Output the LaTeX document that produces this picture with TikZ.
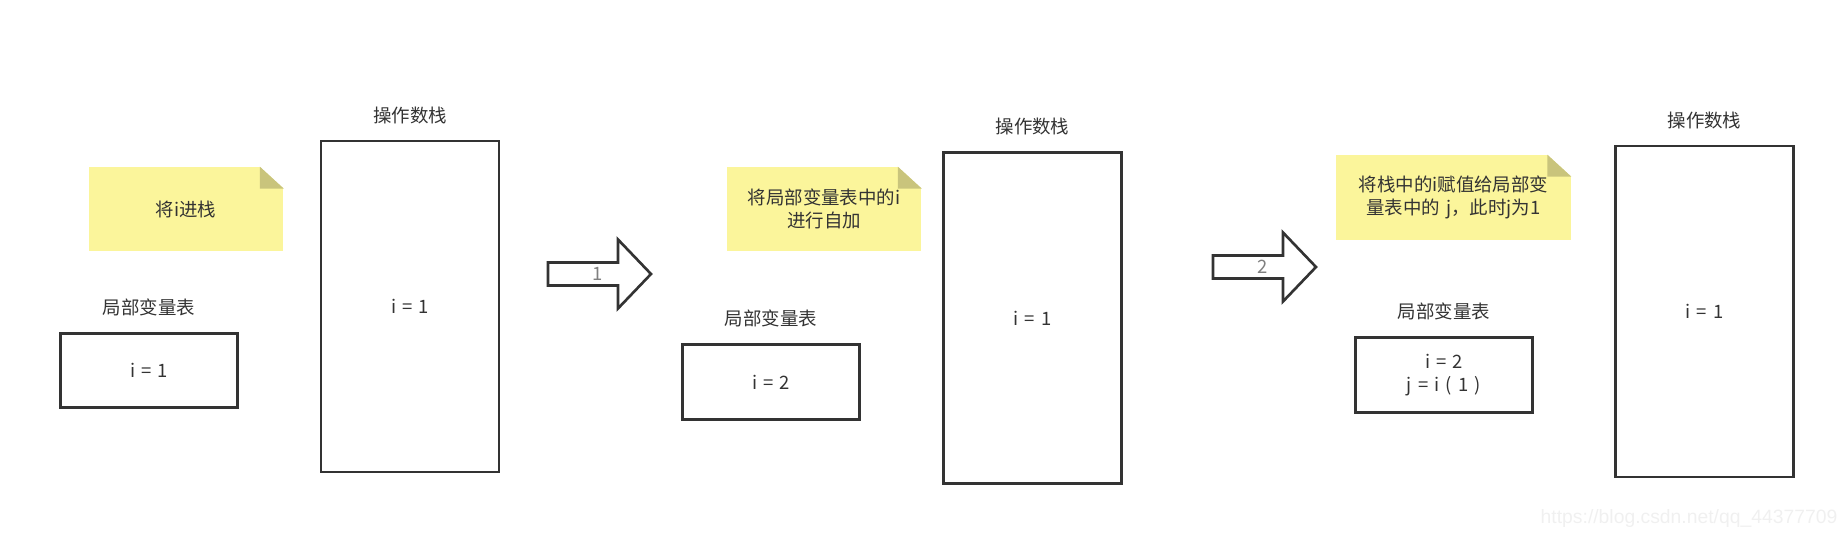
\documentclass[tikz,border=0pt]{standalone}
\usepackage{fontspec}
\setmainfont{Noto Sans CJK SC}[WordSpace=1.5]
\newfontfamily\markfont{Liberation Sans}
\usetikzlibrary{
    positioning % For placing the captions above their boxes
}

\definecolor{note_yellow}{HTML}{FBF59B}
\definecolor{note_fold}{HTML}{C9C47C}
\definecolor{ink_gray}{HTML}{333333}

\begin{document}
\begin{tikzpicture}[
    % One unit is one pixel of the original screenshot (y runs downwards)
    x=0.02cm, y=-0.02cm,
    every node/.style={font=\fontsize{10.5}{13}\selectfont, text=ink_gray},
    % Style for the framed boxes
    box_style/.style={
        draw=ink_gray, line width=1.5pt, fill=white,
        align=center, inner sep=0pt
    },
    stack_style/.style={box_style, minimum width=3.56cm, minimum height=6.62cm},
    table_style/.style={box_style, minimum width=3.54cm, minimum height=1.49cm},
    % Style for the captions above the boxes
    caption_style/.style={inner sep=0pt},
    % Style for the yellow sticky notes
    note_style/.style={
        fill=note_yellow, align=center, inner sep=0pt,
        minimum width=3.9cm, minimum height=1.68cm
    },
    % Style for the hollow step arrows
    block_arrow/.style={draw=ink_gray, line width=1.5pt, fill=white, line join=miter},
    step_label/.style={inner sep=0pt, text=gray}
]
    \useasboundingbox (0,0) rectangle (1846,551);

    % 1. First state: push i
    \node[note_style] (note_one) at (186,209) {将i进栈};
    \node[table_style] (local_one) at (149,370.5) {i = 1};
    \node[caption_style, above=9pt of local_one] (local_one_cap) {局部变量表};
    \node[stack_style] (stack_one) at (410,306.5) {i = 1};
    \node[caption_style, above=9pt of stack_one] (stack_one_cap) {操作数栈};

    % 2. Second state: increment i in the local table
    \node[note_style] (note_two) at (824,209) {将局部变量表中的i\\进行自加};
    \node[table_style] (local_two) at (771,382) {i = 2};
    \node[caption_style, above=9pt of local_two] (local_two_cap) {局部变量表};
    \node[stack_style] (stack_two) at (1032.5,318) {i = 1};
    \node[caption_style, above=9pt of stack_two] (stack_two_cap) {操作数栈};

    % 3. Third state: assign to j
    \node[note_style, minimum width=4.7cm, minimum height=1.7cm] (note_three) at (1453.5,197.5)
        {将栈中的i赋值给局部变\\量表中的 j，此时j为1};
    \node[table_style] (local_three) at (1444,375) {i = 2\\j = i ( 1 )};
    \node[caption_style, above=9pt of local_three] (local_three_cap) {局部变量表};
    \node[stack_style] (stack_three) at (1704.5,311.5) {i = 1};
    \node[caption_style, above=9pt of stack_three] (stack_three_cap) {操作数栈};

    % 4. Folded corners of the notes
    \foreach \n in {note_one, note_two, note_three} {
        \fill[white] ([xshift=-0.48cm]\n.north east) -- (\n.north east)
            -- ([yshift=-0.44cm]\n.north east) -- cycle;
        \fill[note_fold] ([xshift=-0.48cm]\n.north east) -- ([yshift=-0.44cm]\n.north east)
            -- ([xshift=-0.48cm, yshift=-0.44cm]\n.north east) -- cycle;
    }

    % 5. Step arrows between the states
    \foreach \name/\x/\y/\num in {step_one/548/274/1, step_two/1213/267/2} {
        \draw[block_arrow] (\x,\y-11.5) -- ++(70,0) -- ++(0,-23) -- (\x+103,\y)
            -- (\x+70,\y+34.5) -- ++(0,-23) -- (\x,\y+11.5) -- cycle;
        \node[step_label] (\name) at (\x+50,\y) {\num};
    }

    % Watermark
    \node[inner sep=0pt, text=black!6, font=\markfont\fontsize{11}{13}\selectfont] (mark) at (1689,518)
        {https://blog.csdn.net/qq\_44377709};
\end{tikzpicture}
\end{document}
